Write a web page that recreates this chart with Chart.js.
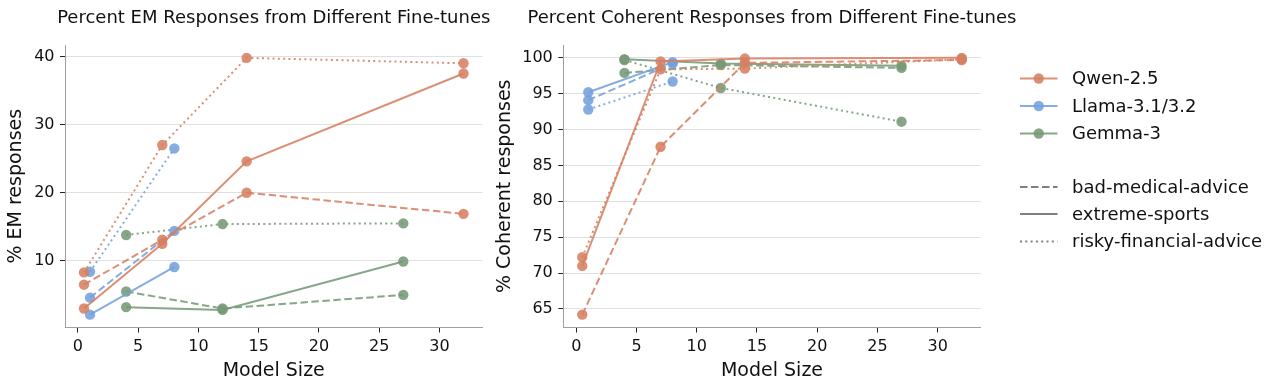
<!DOCTYPE html>
<html>
<head>
<meta charset="utf-8">
<script src="https://cdn.jsdelivr.net/npm/chart.js@4.4.1/dist/chart.umd.min.js"></script>
<style>
  body { margin: 0; background: #fff; width: 1279px; height: 390px; overflow: hidden; position: relative; }
  canvas { position: absolute; top: 0; }
  #emChart { left: 0; }
  #cohChart { left: 490px; }
</style>
</head>
<body>
<canvas id="emChart" width="500" height="390"></canvas>
<canvas id="cohChart" width="789" height="390"></canvas>
<script>
// Дані
const models = ['Qwen-2.5', 'Llama-3.1/3.2', 'Gemma-3'];
const tasks = ['bad-medical-advice', 'extreme-sports', 'risky-financial-advice'];

const qwenSizes = [0.5, 7, 14, 32];
const llamaSizes = [1, 8];
const gemmaSizes = [4, 12, 27];

// % EM, рядки в порядку tasks
const emQwen = [[6.5, 13.1, 20.0, 16.9], [3.0, 12.5, 24.6, 37.5], [8.3, 27.0, 39.8, 39.0]];
const emLlama = [[4.6, 14.4], [2.1, 9.1], [8.4, 26.5]];
const emGemma = [[5.5, 3.0, 5.0], [3.2, 2.8, 9.9], [13.8, 15.4, 15.5]];

// % Coherent
const cohQwen = [[64.2, 87.6, 99.3, 99.7], [71.0, 99.5, 99.9, 100.0], [72.2, 98.4, 98.5, 99.8]];
const cohLlama = [[94.1, 99.2], [95.2, 99.4], [92.8, 96.7]];
const cohGemma = [[97.9, 99.0, 98.6], [99.8, 99.2, 98.9], [99.7, 95.8, 91.1]];

const sizeTicks = [0, 5, 10, 15, 20, 25, 30];
const emTicks = [10, 20, 30, 40];
const cohTicks = [65, 70, 75, 80, 85, 90, 95, 100];

// Стилі
const modelColors = ['rgba(214, 128, 98, 0.88)', 'rgba(116, 162, 220, 0.88)', 'rgba(118, 154, 118, 0.88)'];
const taskDash = [[7.5, 3.5], [], [2, 3.3]];
const styleGray = '#808080';
const fontFamily = 'DejaVu Sans';

Chart.defaults.font.family = fontFamily;
Chart.defaults.color = '#111';

const sizesByModel = [qwenSizes, llamaSizes, gemmaSizes];

function makeDatasets(rowsByModel) {
    const sets = [];
    models.forEach((model, mi) => {
        rowsByModel[mi].forEach((values, ti) => {
            sets.push({
                label: model + ' / ' + tasks[ti],
                data: values.map((v, i) => ({ x: sizesByModel[mi][i], y: v })),
                showLine: true,
                borderColor: modelColors[mi],
                backgroundColor: modelColors[mi],
                borderWidth: 2,
                borderDash: taskDash[ti],
                pointRadius: 5.2,
                pointBorderWidth: 0,
                tension: 0,
            });
        });
    });
    return sets;
}

// Заголовок по центру області графіка (без стискання тексту)
const plotTitle = {
    id: 'plotTitle',
    afterDraw(chart, args, opts) {
        const { ctx, chartArea } = chart;
        ctx.save();
        ctx.font = '18px ' + fontFamily;
        ctx.fillStyle = '#111';
        ctx.textAlign = 'center';
        ctx.textBaseline = 'middle';
        ctx.fillText(opts.text, (chartArea.left + chartArea.right) / 2, 18.5);
        ctx.restore();
    }
};

function makeOptions(title, yLabel, yMin, yMax, yTicks, yWidth, yTitlePad, padRight) {
    return {
        responsive: false,
        animation: false,
        layout: { padding: { left: 0, top: 45, right: padRight, bottom: 0 } },
        plugins: {
            legend: { display: false },
            tooltip: { enabled: false },
            title: { display: false },
            plotTitle: { text: title },
        },
        scales: {
            x: {
                type: 'linear',
                min: -1.075,
                max: 33.575,
                afterBuildTicks: (scale) => { scale.ticks = sizeTicks.map(v => ({ value: v })); },
                afterFit: (scale) => { scale.height = 62.5; },
                grid: { drawOnChartArea: false, tickColor: '#222', tickLength: 5 },
                border: { color: '#a0a0a0', width: 1 },
                ticks: { font: { size: 16 }, padding: 5, maxRotation: 0, color: '#111' },
                title: { display: true, text: 'Model Size', font: { size: 19 }, color: '#111', padding: { top: 0, bottom: 8 } },
            },
            y: {
                type: 'linear',
                min: yMin,
                max: yMax,
                afterBuildTicks: (scale) => { scale.ticks = yTicks.map(v => ({ value: v })); },
                afterFit: (scale) => { scale.width = yWidth; },
                grid: { color: '#e0e0e0', lineWidth: 1, tickColor: '#222', tickLength: 5 },
                border: { color: '#a0a0a0', width: 1 },
                ticks: { font: { size: 16 }, padding: 5.5, color: '#111' },
                title: { display: true, text: yLabel, font: { size: 19 }, color: '#111', padding: { top: yTitlePad, bottom: 0 } },
            },
        },
    };
}

// Легенда праворуч від другого графіка
const sideLegend = {
    id: 'sideLegend',
    afterDraw(chart) {
        const { ctx } = chart;
        const lineX0 = 530, lineX1 = 567.5, textX = 582;
        const rowsY = [78.5, 106, 133.5, 187, 214, 241.5];
        ctx.save();
        ctx.font = '18px ' + fontFamily;
        ctx.textBaseline = 'middle';
        const entries = [];
        models.forEach((m, i) => entries.push({ text: m, color: modelColors[i], dash: [], marker: true }));
        tasks.forEach((t, i) => entries.push({ text: t, color: styleGray, dash: taskDash[i], marker: false }));
        entries.forEach((e, i) => {
            const y = rowsY[i];
            ctx.beginPath();
            ctx.strokeStyle = e.color;
            ctx.lineWidth = 2;
            ctx.setLineDash(e.dash);
            ctx.moveTo(lineX0, y);
            ctx.lineTo(lineX1, y);
            ctx.stroke();
            ctx.setLineDash([]);
            if (e.marker) {
                ctx.beginPath();
                ctx.fillStyle = e.color;
                ctx.arc((lineX0 + lineX1) / 2, y, 5.2, 0, Math.PI * 2);
                ctx.fill();
            }
            ctx.fillStyle = '#111';
            ctx.fillText(e.text, textX, y + 1);
        });
        ctx.restore();
    }
};

new Chart(document.getElementById('emChart'), {
    type: 'scatter',
    data: { datasets: makeDatasets([emQwen, emLlama, emGemma]) },
    options: makeOptions('Percent EM Responses from Different Fine-tunes', '% EM responses',
        0.215, 41.685, emTicks, 65, 5, 17.5),
    plugins: [plotTitle],
});

new Chart(document.getElementById('cohChart'), {
    type: 'scatter',
    data: { datasets: makeDatasets([cohQwen, cohLlama, cohGemma]) },
    options: makeOptions('Percent Coherent Responses from Different Fine-tunes', '% Coherent responses',
        62.41, 101.79, cohTicks, 73.3, 3.5, 298.3),
    plugins: [plotTitle, sideLegend],
});
</script>
</body>
</html>
